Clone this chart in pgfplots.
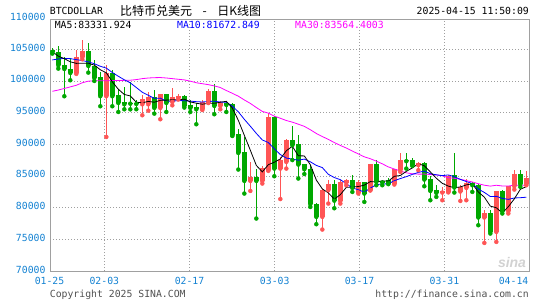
\documentclass[border=0pt]{standalone}
\usepackage{pgfplots}
\pgfplotsset{compat=1.18}
\usepackage{pgfplotstable}
\usepackage{fontspec}
\setmainfont{DejaVu Sans}
\setmonofont{DejaVu Sans Mono}
\setsansfont{Liberation Sans}
\newfontfamily\cjk{Noto Sans CJK SC}
\definecolor{cred}{RGB}{255,85,85}
\definecolor{cgreen}{RGB}{0,168,0}
\definecolor{lblue}{RGB}{20,130,210}
\definecolor{maten}{RGB}{0,0,255}
\definecolor{mathirty}{RGB}{255,0,255}
\definecolor{framec}{RGB}{160,160,160}
\definecolor{copyc}{RGB}{80,80,80}

% falling days (green): lo = close, hi = open
\pgfplotstableread{
i lo hi L H
0 104500 104800 104300 105200
1 102460 104600 101930 105450
2 101870 102460 97570 103770
3 101240 101870 100090 103660
6 102350 104660 101300 106030
7 100450 102350 99980 103250
8 97570 100600 95990 101400
10 97570 101300 95990 101670
11 96510 97730 95090 98780
12 96300 96620 95510 99030
13 96400 96520 95500 99800
14 96350 96510 95520 96940
17 95720 97480 94830 98510
19 96510 97880 95090 97990
22 96040 97620 95790 97720
23 95720 96200 95090 97050
24 95510 95830 93150 96510
27 96040 98350 94730 99460
29 96200 96570 95090 96830
30 91410 96300 91300 96500
31 88620 91570 86010 92470
32 84210 88730 82220 91150
34 84210 84840 78280 86160
37 86160 94300 84950 94400
40 89840 90630 87500 92830
41 86790 90050 84590 91410
42 86050 86840 85300 86900
43 80530 86160 80100 86790
44 78540 80640 77380 80700
47 81100 83670 79900 84400
50 83100 84320 82470 85110
52 82220 84050 80900 84100
54 84050 86840 83530 87470
55 83960 84160 83530 84430
56 83800 84320 83700 84750
59 87320 87470 86160 88620
60 86690 87470 86580 87900
62 84430 87050 83370 87200
63 82630 84480 81160 84950
64 82320 82740 81690 83530
67 83170 85110 82380 88620
70 83530 83900 82480 84050
71 78440 83640 77220 83700
73 76170 79160 75910 79600
75 79430 82580 79070 82740
78 83690 85380 83260 86000
}\downtable

% rising days (red): lo = open, hi = close
\pgfplotstableread{
i lo hi L H
4 101240 103720 101100 104930
5 103720 104660 103400 106400
9 97570 101300 91150 102460
15 96300 97200 94570 97720
16 96300 97480 95300 98300
18 95720 97880 93940 98000
20 96670 97480 96140 98850
21 97300 97620 97050 97990
25 95510 96670 95400 97050
26 96570 98350 96500 98780
28 96040 96570 95510 96830
33 84210 84840 82630 87200
35 84210 86300 83800 86530
36 85900 94300 85800 94900
38 86160 87470 81350 88000
39 87200 90630 86160 90890
45 78540 82850 76540 83000
46 82740 83670 80640 84400
48 81050 84050 80640 84320
49 83960 84320 83530 84590
51 82380 84050 82220 84320
53 82740 86840 82700 86950
57 83800 86050 83640 86100
58 85900 87470 85630 88620
61 86690 87110 85900 87200
65 82380 82630 81160 83260
66 82480 84950 82400 85110
68 82540 83260 81050 83640
69 83110 83900 81160 84590
72 78440 79160 74430 79590
74 76170 82580 74590 82700
76 79430 83370 79070 83450
77 83370 85380 82850 85900
79 83690 84690 83530 85740
}\uptable

\pgfplotstableread{
i ma5 ma10 ma30
0 104600 103300 98350
1 103900 103450 98550
2 103500 103550 98800
3 103000 103500 99050
4 102758 103350 99300
5 102790 103200 99700
6 102768 103000 99950
7 102484 102700 100000
8 101750 102300 100000
9 101266 102012 100020
10 99848 101319 100040
11 98680 100724 100060
12 97850 100167 100080
13 97616 99683 100100
14 96626 98946 100200
15 96552 98200 100350
16 96746 97713 100450
17 96630 97240 100500
18 96926 97271 100520
19 96958 96792 100450
20 97014 96783 100350
21 97042 96894 100250
22 97106 96868 100150
23 96674 96800 99950
24 96474 96716 99700
25 96312 96663 99550
26 96458 96750 99400
27 96458 96782 99200
28 96628 96651 98950
29 96766 96620 98475
30 95714 96013 98038
31 93768 95113 97577
32 91402 93930 96988
33 89056 92842 96442
34 86658 91712 95791
35 85636 90675 95179
36 86772 90270 94911
37 87162 89282 94435
38 87688 88372 94098
39 88972 87815 93742
40 89680 87658 93485
41 88178 87475 93161
42 88156 87659 92819
43 86768 87228 92290
44 84350 86661 91696
45 82952 86316 91218
46 82328 85253 90758
47 81338 84747 90270
48 82042 84405 89809
49 83198 83774 89403
50 83248 83100 88924
51 83324 82826 88471
52 83548 82443 88011
53 84106 83074 87715
54 84052 83625 87333
55 84224 83736 86909
56 84174 83749 86424
57 84940 84244 86091
58 85066 84586 85788
59 85720 84886 85492
60 86266 85245 85334
61 86928 85551 85284
62 86604 85772 85291
63 85636 85351 85218
64 84636 85178 85155
65 83824 85045 85032
66 83392 85160 84721
67 83140 84872 84621
68 83266 84451 84481
69 83582 84109 84256
70 83762 83793 84046
71 82460 82926 83768
72 81658 82399 83538
73 80240 81753 83393
74 79976 81779 83527
75 79156 81459 83413
76 80142 81301 83403
77 81386 81522 83546
78 82890 81565 83534
79 83312 81644 83546
}\matable

\newcommand{\monof}{\ttfamily\fontsize{9.8}{11}\selectfont}

\begin{document}
\begin{tikzpicture}[x=1pt,y=1pt]
\useasboundingbox (0,0) rectangle (545,300);
\begin{axis}[
  at={(50.4pt,29pt)}, anchor=south west,
  scale only axis, width=478.8pt, height=251pt,
  xmin=-0.32, xmax=79.48, ymin=70000, ymax=109600,
  scaled y ticks=false, scaled x ticks=false,
  axis line style={draw=framec, line width=1pt},
  xtick={8.67,22.87,37.07,51.2,65.35},
  xticklabels={02-03,02-17,03-03,03-17,03-31},
  ytick={70000,75000,80000,85000,90000,95000,100000,105000},
  yticklabels={70000,75000,80000,85000,90000,95000,100000,105000},
  xmajorgrids, ymajorgrids,
  grid style={draw=gray!75, line width=0.6pt, dash pattern=on 1pt off 2pt},
  major tick length=0pt,
  tick label style={font=\monof, text=lblue, inner sep=0pt},
  xticklabel style={anchor=north, yshift=-6.5pt},
  yticklabel style={anchor=east, xshift=-4.7pt, yshift=1.5pt},
]
% wicks
\addplot[only marks, mark=none, color=cgreen,
  error bars/.cd, y dir=plus, y explicit, error mark=none,
  error bar style={line width=0.9pt, color=cgreen}]
  table[x=i, y=L, y error expr=\thisrow{H}-\thisrow{L}] {\downtable};
\addplot[only marks, mark=none, color=cred,
  error bars/.cd, y dir=plus, y explicit, error mark=none,
  error bar style={line width=0.9pt, color=cred}]
  table[x=i, y=L, y error expr=\thisrow{H}-\thisrow{L}] {\uptable};
% bodies
\addplot[only marks, mark=none, color=cgreen,
  error bars/.cd, y dir=plus, y explicit, error mark=none,
  error bar style={line width=4.7pt, color=cgreen}]
  table[x=i, y=lo, y error expr={max(\thisrow{hi}-\thisrow{lo},170)}] {\downtable};
\addplot[only marks, mark=none, color=cred,
  error bars/.cd, y dir=plus, y explicit, error mark=none,
  error bar style={line width=4.7pt, color=cred}]
  table[x=i, y=lo, y error expr={max(\thisrow{hi}-\thisrow{lo},170)}] {\uptable};
% moving averages
\addplot[mathirty, line width=0.8pt, mark=none] table[x=i, y=ma30] {\matable};
\addplot[maten, line width=0.8pt, mark=none] table[x=i, y=ma10] {\matable};
\addplot[black, line width=0.8pt, mark=none] table[x=i, y=ma5] {\matable};
\end{axis}
% header
\node[anchor=west, inner sep=0pt, font=\monof] at (49.7,289) {BTCDOLLAR};
\node[anchor=west, inner sep=0pt, font=\cjk\fontsize{12}{14}\selectfont] at (120,289) {比特币兑美元\hspace{10.5pt}-\hspace{10.5pt}日K线图};
\node[anchor=east, inner sep=0pt, font=\monof] at (529,289) {2025-04-15 11:50:09};
\node[anchor=west, inner sep=0pt, font=\monof, text=black] at (54.6,275.2) {MA5:83331.924};
\node[anchor=west, inner sep=0pt, font=\monof, text=maten] at (177,275.2) {MA10:81672.849};
\node[anchor=west, inner sep=0pt, font=\monof, text=mathirty] at (295,275.2) {MA30:83564.4003};
% extra tick labels
\node[anchor=east, inner sep=0pt, font=\monof, text=lblue] at (45.7,283.5) {110000};
\node[anchor=north, inner sep=0pt, font=\monof, text=lblue] at (49.5,22.5) {01-25};
\node[anchor=north east, inner sep=0pt, font=\monof, text=lblue] at (528.5,22.5) {04-14};
% footer
\node[anchor=west, inner sep=0pt, font=\monof, text=copyc] at (49.7,5) {Copyright 2025 SINA.COM};
\node[anchor=east, inner sep=0pt, font=\monof, text=copyc] at (529,5) {http://finance.sina.com.cn};
\node[inner sep=0pt, text=gray!35, font=\sffamily\bfseries\itshape\fontsize{14}{14}\selectfont] at (512,38) {sina};
\end{tikzpicture}
\end{document}
